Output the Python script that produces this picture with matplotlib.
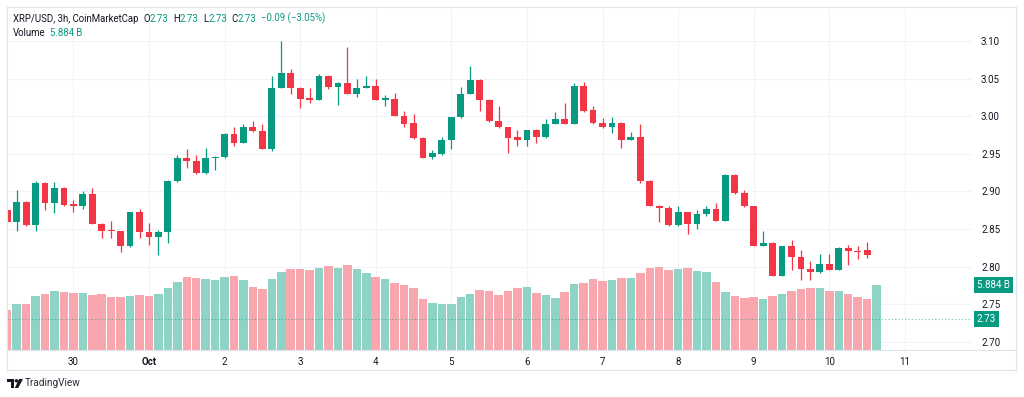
import numpy as np
import matplotlib
matplotlib.use("Agg")
import matplotlib.pyplot as plt
from matplotlib.patches import Polygon, Circle
from matplotlib.lines import Line2D

# 3h XRP/USD candles, first bar = Sep 29 03:00, index 0 = Oct 1 00:00
bar_index = np.arange(-15, 78)

opens = [2.875, 2.859, 2.886, 2.855, 2.911, 2.884, 2.905, 2.883, 2.881, 2.897,
         2.857, 2.849, 2.847, 2.828, 2.872, 2.846, 2.840, 2.846, 2.914, 2.944,
         2.941, 2.924, 2.944, 2.946, 2.977, 2.965, 2.986, 2.980, 2.956, 3.038,
         3.057, 3.038, 3.024, 3.022, 3.054, 3.039, 3.044, 3.030, 3.038, 3.040,
         3.022, 3.023, 3.000, 2.991, 2.971, 2.946, 2.950, 2.969, 2.999, 3.030,
         3.048, 3.022, 2.994, 2.985, 2.972, 2.969, 2.982, 2.972, 2.990, 2.996,
         2.990, 3.040, 3.008, 2.991, 2.985, 2.991, 2.969, 2.973, 2.914, 2.881,
         2.878, 2.855, 2.872, 2.856, 2.870, 2.877, 2.861, 2.922, 2.898, 2.880,
         2.828, 2.832, 2.788, 2.827, 2.813, 2.797, 2.793, 2.804, 2.796, 2.825,
         2.821, 2.822, 2.730]
highs = [2.878, 2.902, 2.887, 2.914, 2.912, 2.912, 2.906, 2.889, 2.900, 2.905,
         2.858, 2.860, 2.848, 2.872, 2.876, 2.858, 2.849, 2.915, 2.948, 2.956,
         2.948, 2.958, 2.947, 2.978, 2.985, 2.989, 2.994, 2.989, 3.053, 3.100,
         3.063, 3.039, 3.038, 3.056, 3.055, 3.046, 3.092, 3.050, 3.054, 3.049,
         3.028, 3.031, 3.007, 3.003, 2.972, 2.955, 2.972, 2.999, 3.039, 3.067,
         3.049, 3.023, 3.013, 2.986, 2.981, 2.982, 2.983, 2.996, 3.005, 3.018,
         3.044, 3.046, 3.013, 2.997, 2.999, 2.992, 2.979, 2.989, 2.915, 2.882,
         2.880, 2.880, 2.873, 2.875, 2.881, 2.885, 2.923, 2.923, 2.902, 2.881,
         2.847, 2.833, 2.828, 2.835, 2.822, 2.808, 2.817, 2.817, 2.826, 2.829,
         2.827, 2.833, 2.730]
lows = [2.857, 2.848, 2.854, 2.848, 2.875, 2.871, 2.881, 2.873, 2.876, 2.856,
        2.838, 2.838, 2.819, 2.826, 2.838, 2.829, 2.816, 2.832, 2.912, 2.931,
        2.923, 2.923, 2.929, 2.945, 2.960, 2.964, 2.979, 2.956, 2.954, 3.037,
        3.030, 3.011, 3.017, 3.021, 3.036, 3.015, 3.030, 3.025, 3.037, 3.021,
        3.013, 3.000, 2.986, 2.970, 2.944, 2.943, 2.949, 2.957, 2.998, 3.029,
        3.007, 2.992, 2.984, 2.951, 2.960, 2.960, 2.965, 2.971, 2.989, 2.989,
        2.989, 3.006, 2.990, 2.984, 2.978, 2.958, 2.968, 2.911, 2.880, 2.859,
        2.854, 2.854, 2.843, 2.850, 2.867, 2.860, 2.860, 2.897, 2.879, 2.827,
        2.827, 2.787, 2.787, 2.796, 2.782, 2.782, 2.791, 2.795, 2.795, 2.802,
        2.810, 2.811, 2.730]
closes = [2.859, 2.886, 2.855, 2.911, 2.884, 2.905, 2.882, 2.881, 2.897, 2.857,
          2.848, 2.847, 2.828, 2.872, 2.846, 2.840, 2.846, 2.914, 2.944, 2.941,
          2.924, 2.944, 2.946, 2.977, 2.965, 2.986, 2.980, 2.956, 3.038, 3.057,
          3.038, 3.023, 3.022, 3.054, 3.039, 3.044, 3.030, 3.038, 3.040, 3.022,
          3.024, 3.000, 2.990, 2.971, 2.945, 2.951, 2.969, 2.999, 3.030, 3.048,
          3.022, 2.994, 2.985, 2.971, 2.969, 2.982, 2.972, 2.990, 2.996, 2.990,
          3.040, 3.007, 2.991, 2.985, 2.991, 2.969, 2.973, 2.914, 2.881, 2.878,
          2.855, 2.872, 2.856, 2.870, 2.877, 2.861, 2.922, 2.898, 2.880, 2.828,
          2.832, 2.788, 2.827, 2.813, 2.797, 2.793, 2.804, 2.796, 2.825, 2.821,
          2.820, 2.816, 2.730]
# volume in billions
volumes = [3.62, 4.14, 4.16, 4.86, 5.04, 5.37, 5.25, 5.19, 5.19, 4.98,
           5.07, 4.77, 4.82, 4.91, 4.98, 4.89, 5.07, 5.58, 6.15, 6.63,
           6.52, 6.40, 6.34, 6.63, 6.70, 6.34, 5.73, 5.52, 6.40, 7.03,
           7.33, 7.33, 7.24, 7.45, 7.57, 7.45, 7.72, 7.30, 6.97, 6.61,
           6.43, 6.06, 5.88, 5.64, 4.62, 4.28, 4.16, 4.16, 4.77, 5.07,
           5.43, 5.34, 4.98, 5.34, 5.58, 5.73, 5.19, 4.98, 4.71, 5.25,
           5.97, 6.09, 6.40, 6.24, 6.34, 6.49, 6.49, 6.97, 7.39, 7.51,
           7.24, 7.33, 7.39, 7.18, 7.09, 6.15, 5.28, 4.91, 4.71, 4.77,
           4.62, 4.86, 5.07, 5.31, 5.52, 5.61, 5.61, 5.31, 5.37, 5.07,
           4.82, 4.62, 5.884]

day_ticks = np.arange(-8, 81, 8)
day_labels = ["30", "Oct", "2", "3", "4", "5", "6", "7", "8", "9", "10", "11"]
price_ticks = [2.70, 2.75, 2.80, 2.85, 2.90, 2.95, 3.00, 3.05, 3.10]
last_price = 2.73
last_volume = 5.884

UP = "#089981"
DOWN = "#F23645"
UP_VOL = "#8fd3c7"
DOWN_VOL = "#f9a7ae"
TEXT = "#131722"
GRID = "#F0F3FA"
BORDER = "#E0E3EB"
FONT = ["Roboto", "DejaVu Sans"]

W, H = 1024, 397
fig = plt.figure(figsize=(W / 100, H / 100), dpi=100)


def fx(x):
    return x / W


def fy(y):
    return 1 - y / H


pane = [fx(7.5), fy(350), fx(972) - fx(7.5), fy(8) - fy(350)]
xlim = (-14.97, 87.1)
price_lim = (2.6891, 3.1439)

# bottom layer: grid + axis labels
ax = fig.add_axes(pane)
ax.set_xlim(*xlim)
ax.set_ylim(*price_lim)
for s in ax.spines.values():
    s.set_visible(False)
ax.set_xticks(day_ticks)
ax.set_xticklabels(day_labels)
ax.set_yticks(price_ticks)
ax.set_yticklabels([f"{p:.2f}" for p in price_ticks])
ax.yaxis.tick_right()
ax.tick_params(axis="both", length=0, labelsize=7, labelcolor=TEXT)
ax.tick_params(axis="y", pad=6.5)
ax.tick_params(axis="x", pad=5)
for lbl in ax.get_xticklabels() + ax.get_yticklabels():
    lbl.set_family(FONT)
for lbl in ax.get_xticklabels():
    if lbl.get_text() == "Oct":
        lbl.set_fontweight("bold")
ax.grid(True, color=GRID, lw=0.8)
ax.set_axisbelow(True)

up = np.array(closes) >= np.array(opens)

# middle layer: volume
axv = fig.add_axes(pane, sharex=ax)
axv.patch.set_visible(False)
axv.set_ylim(0, 30.96)
axv.axis("off")
axv.bar(bar_index, volumes, width=0.9,
        color=[UP_VOL if u else DOWN_VOL for u in up], edgecolor="none")

# top layer: candles
axc = fig.add_axes(pane, sharex=ax, sharey=ax)
axc.patch.set_visible(False)
axc.axis("off")
colors = [UP if u else DOWN for u in up]
axc.vlines(bar_index, lows, highs, colors=colors, lw=0.9)
body_lo = np.minimum(opens, closes)
body_h = np.maximum(np.abs(np.array(closes) - np.array(opens)), 0.0008)
axc.bar(bar_index, body_h, bottom=body_lo, width=0.72, color=colors, edgecolor="none")
axc.axhline(last_price, color=UP, alpha=0.6, lw=0.8, ls=(0, (1, 2)))
axc.set_xlim(*xlim)
axc.set_ylim(*price_lim)

# last value tags on the scale
axc.annotate(f"{last_price:.2f}", xy=(1, last_price), xycoords=("axes fraction", "data"),
             xytext=(3.5, 0), textcoords="offset points", ha="left", va="center",
             fontsize=7, color="white", family=FONT,
             bbox=dict(boxstyle="square,pad=0.3", fc=UP, ec="none"))
axv.annotate(f"{last_volume:.3f} B", xy=(1, last_volume), xycoords=("axes fraction", "data"),
             xytext=(3.5, 0), textcoords="offset points", ha="left", va="center",
             fontsize=7, color="white", family=FONT,
             bbox=dict(boxstyle="square,pad=0.3", fc=UP, ec="none"))

# frame lines
for (x0, y0, x1, y1) in [(7, 7, 1016, 7), (7, 350, 1016, 350), (7, 370, 1016, 370),
                         (7, 7, 7, 370), (1016, 7, 1016, 370)]:
    fig.add_artist(Line2D([fx(x0), fx(x1)], [fy(y0), fy(y1)], color=BORDER, lw=0.8))

# legend header
renderer = fig.canvas.get_renderer()


def put_row(x, y, parts, size=6.9):
    for item in parts:
        if isinstance(item, (int, float)):
            x += item
            continue
        s, c = item
        t = fig.text(fx(x), fy(y), s, color=c, fontsize=size, va="center", ha="left", family=FONT)
        x += t.get_window_extent(renderer=renderer).width


o, h, l, c = opens[-1], highs[-1], lows[-1], closes[-1]
chg = c - closes[-2]
pct = chg / closes[-2] * 100
put_row(13, 18.5, [("XRP/USD, 3h, CoinMarketCap", TEXT), 5,
                   ("O", TEXT), (f"{o:.2f}", UP), 4.5,
                   ("H", TEXT), (f"{h:.2f}", UP), 4.5,
                   ("L", TEXT), (f"{l:.2f}", UP), 4.5,
                   ("C", TEXT), (f"{c:.2f}", UP), 4.5,
                   (f"\u2212{abs(chg):.2f} (\u2212{abs(pct):.2f}%)", UP)])
put_row(13, 32.5, [("Volume", TEXT), 4, (f"{last_volume:.3f} B", UP)])

# TradingView logo
lax = fig.add_axes([fx(7), fy(388), fx(23) - fx(7), fy(379) - fy(388)])
lax.set_xlim(0, 16)
lax.set_ylim(0, 9)
lax.axis("off")
lax.add_patch(Polygon([(0, 9), (7, 9), (7, 0), (4, 0), (4, 6), (0, 6)], color=TEXT, lw=0))
lax.add_patch(Circle((9.4, 7.2), 1.7, color=TEXT, lw=0))
lax.add_patch(Polygon([(12, 9), (16, 9), (11.2, 0), (7.8, 0)], color=TEXT, lw=0))
fig.text(fx(25), fy(383.5), "TradingView", color="#2a2e39", fontsize=7.2, va="center",
         ha="left", family=FONT)

fig.savefig("out.png", dpi=100, facecolor="white")
